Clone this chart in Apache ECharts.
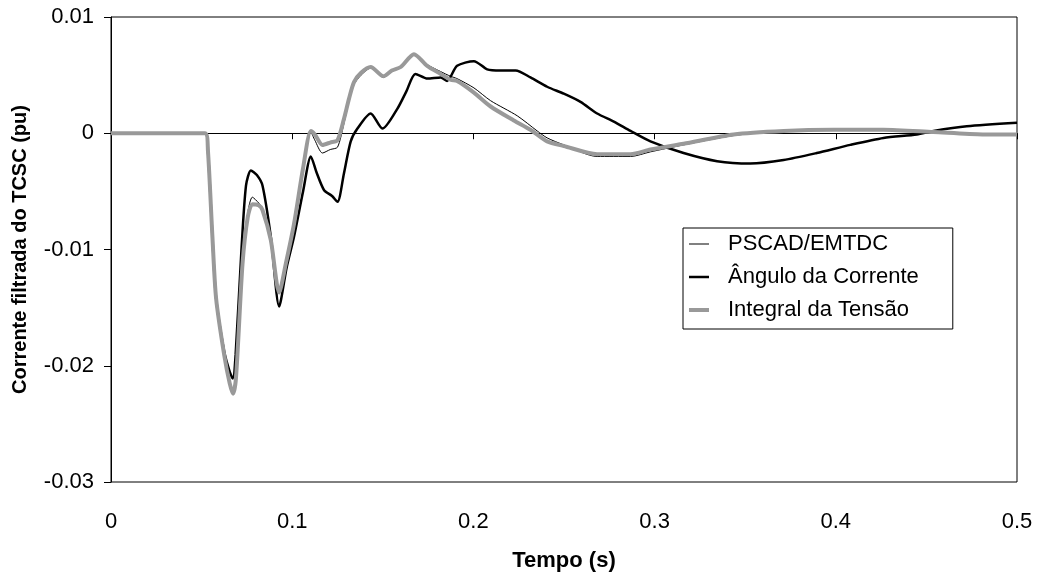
<!DOCTYPE html>
<html>
<head>
<meta charset="utf-8">
<title>Corrente filtrada do TCSC</title>
<script src="https://cdn.jsdelivr.net/npm/echarts@6/dist/echarts.min.js"></script>
<style>
  html, body { margin: 0; padding: 0; background: #fff; }
  #chart { width: 1039px; height: 577px; }
</style>
</head>
<body>
<div id="chart"></div>
<script>
// Time samples (s) and filtered TCSC current (pu) for each method
const tPscad = [0, 0.052, 0.0535, 0.056, 0.058, 0.0625, 0.0655, 0.0672, 0.069, 0.0726, 0.0755, 0.078, 0.0815, 0.0836, 0.0882, 0.0928, 0.0965, 0.101, 0.106, 0.1103, 0.1125, 0.1167, 0.121, 0.125, 0.1285, 0.1314, 0.1341, 0.138, 0.1433, 0.1503, 0.155, 0.1599, 0.1672, 0.1745, 0.182, 0.1874, 0.191, 0.2003, 0.2095, 0.2242, 0.2352, 0.2407, 0.2499, 0.2683, 0.2867, 0.2977, 0.316, 0.3436, 0.3712, 0.3987, 0.4263, 0.4539, 0.481, 0.5];
const pscad = [0, 0, -0.0015, -0.009, -0.0142, -0.019, -0.0213, -0.0222, -0.0208, -0.011, -0.0068, -0.0055, -0.006, -0.0065, -0.0092, -0.0136, -0.0112, -0.0078, -0.003, 0.0001, -0.0006, -0.0017, -0.0014, -0.0012, 0.0008, 0.0028, 0.0042, 0.005, 0.0056, 0.0048, 0.0053, 0.0057, 0.0067, 0.0059, 0.0053, 0.0049, 0.0047, 0.0039, 0.0028, 0.0015, 0.0002, -0.0004, -0.001, -0.002, -0.002, -0.0016, -0.001, -0.0002, 0.0002, 0.0003, 0.0003, 0.0001, -0.0001, -0.0001];

const tAngulo = [0, 0.052, 0.0535, 0.056, 0.058, 0.0625, 0.0655, 0.0672, 0.0688, 0.072, 0.0745, 0.0772, 0.0805, 0.0836, 0.0882, 0.0928, 0.097, 0.101, 0.106, 0.1103, 0.1135, 0.1176, 0.122, 0.125, 0.1285, 0.1323, 0.136, 0.1433, 0.1498, 0.158, 0.163, 0.168, 0.1746, 0.182, 0.1855, 0.191, 0.2003, 0.2076, 0.215, 0.2233, 0.2315, 0.2407, 0.2499, 0.2591, 0.2683, 0.2775, 0.2867, 0.2977, 0.316, 0.3345, 0.3528, 0.3712, 0.3895, 0.408, 0.4263, 0.4447, 0.4539, 0.4723, 0.5];
const angulo = [0, 0, -0.0015, -0.009, -0.0142, -0.0188, -0.0205, -0.0211, -0.019, -0.01, -0.0045, -0.0032, -0.0036, -0.0045, -0.0089, -0.0149, -0.0115, -0.0089, -0.005, -0.002, -0.0034, -0.0049, -0.0054, -0.0059, -0.0035, -0.0007, 0.0004, 0.0017, 0.0004, 0.0021, 0.0036, 0.0051, 0.0047, 0.0048, 0.0045, 0.0058, 0.0062, 0.0055, 0.0054, 0.0054, 0.0048, 0.004, 0.0034, 0.0027, 0.0017, 0.001, 0.0002, -0.0007, -0.0017, -0.0024, -0.0026, -0.0023, -0.0017, -0.001, -0.0004, -0.0001, 0.0002, 0.0006, 0.0009];

const tIntegral = [0, 0.052, 0.0535, 0.056, 0.058, 0.0625, 0.0655, 0.0674, 0.069, 0.0726, 0.0755, 0.078, 0.0815, 0.0836, 0.0882, 0.0928, 0.0965, 0.101, 0.106, 0.1103, 0.1125, 0.1167, 0.121, 0.125, 0.1285, 0.1314, 0.1341, 0.138, 0.1433, 0.1503, 0.155, 0.1599, 0.1672, 0.1745, 0.182, 0.1874, 0.191, 0.2003, 0.2095, 0.2223, 0.2315, 0.2407, 0.2499, 0.2683, 0.2867, 0.2977, 0.316, 0.3436, 0.3712, 0.3987, 0.4263, 0.4539, 0.481, 0.5];
const integral = [0, 0, -0.0015, -0.009, -0.0142, -0.0191, -0.0215, -0.0224, -0.021, -0.0112, -0.0072, -0.0061, -0.0062, -0.0066, -0.0092, -0.0137, -0.0112, -0.0078, -0.003, 0.0002, -0.0001, -0.001, -0.0008, -0.0006, 0.0012, 0.003, 0.0044, 0.0052, 0.0057, 0.0049, 0.0054, 0.0057, 0.0068, 0.0058, 0.0051, 0.0046, 0.0045, 0.0035, 0.0023, 0.0011, 0.0003, -0.0007, -0.0011, -0.0018, -0.0018, -0.0014, -0.0009, -0.0001, 0.0002, 0.0003, 0.0003, 0.0001, -0.0001, -0.0001];

// Tick labels
const xTicks = ['0', '0.1', '0.2', '0.3', '0.4', '0.5'];
const yTicks = ['-0.03', '-0.02', '-0.01', '0', '0.01'];

const seriesNames = ['PSCAD/EMTDC', 'Ângulo da Corrente', 'Integral da Tensão'];

function pairs(xs, ys) {
  return xs.map((x, i) => [x, ys[i]]);
}

const FONT = 'Liberation Sans, Arial, Helvetica, sans-serif';
const FS = 22;

// Flat bar glyphs for the legend, one per line weight
const legendIcons = [
  'path://M0,0h20v1h-20z',
  'path://M0,0h20v2.5h-20z',
  'path://M0,0h20v4h-20z'
];

const chart = echarts.init(document.getElementById('chart'), null, { renderer: 'canvas' });

chart.setOption({
  backgroundColor: '#ffffff',
  animation: false,
  textStyle: { fontFamily: FONT, color: '#000' },
  grid: {
    left: 111, top: 17, right: 22, bottom: 87,
    show: true, borderColor: '#000', borderWidth: 1, backgroundColor: '#fff'
  },
  legend: {
    orient: 'vertical',
    left: 683, top: 228,
    backgroundColor: '#fff',
    borderColor: '#000', borderWidth: 1,
    padding: [5, 34, 8, 6],
    itemGap: 11,
    itemWidth: 20, itemHeight: 22,
    symbolKeepAspect: true,
    textStyle: { fontFamily: FONT, fontSize: FS, color: '#000', padding: [0, 0, 0, 14] },
    data: seriesNames.map((n, i) => ({ name: n, icon: legendIcons[i] }))
  },
  xAxis: [
    {
      type: 'value', min: 0, max: 0.5, interval: 0.1,
      position: 'bottom',
      axisLine: { show: false, onZero: false },
      axisTick: { show: false },
      splitLine: { show: false },
      axisLabel: {
        margin: 29, fontSize: FS, color: '#000', fontFamily: FONT,
        formatter: v => xTicks[Math.round(v / 0.1)]
      },
      name: 'Tempo (s)', nameLocation: 'middle', nameGap: 68,
      nameTextStyle: { fontSize: FS, fontWeight: 'bold', color: '#000', fontFamily: FONT }
    },
    {
      type: 'value', min: 0, max: 0.5, interval: 0.1,
      position: 'bottom',
      axisLine: { show: true, onZero: true, lineStyle: { color: '#000', width: 1 } },
      axisTick: { show: true, length: 6, lineStyle: { color: '#000' } },
      axisLabel: { show: false },
      splitLine: { show: false }
    }
  ],
  yAxis: {
    type: 'value', min: -0.03, max: 0.01, interval: 0.01,
    axisLine: { show: true, onZero: false, lineStyle: { color: '#000', width: 1 } },
    axisTick: { show: true, length: 7, lineStyle: { color: '#000' } },
    splitLine: { show: false },
    axisLabel: {
      margin: 17, fontSize: FS, color: '#000', fontFamily: FONT,
      formatter: v => yTicks[Math.round((v + 0.03) / 0.01)]
    },
    name: 'Corrente filtrada do TCSC (pu)', nameLocation: 'middle', nameGap: 81,
    nameTextStyle: { fontSize: 20, fontWeight: 'bold', color: '#000', fontFamily: FONT }
  },
  series: [
    {
      name: seriesNames[0], type: 'line', xAxisIndex: 0,
      data: pairs(tPscad, pscad),
      symbol: 'none', smooth: 0.25,
      lineStyle: { color: '#000', width: 1 },
      itemStyle: { color: '#000' }
    },
    {
      name: seriesNames[1], type: 'line', xAxisIndex: 0,
      data: pairs(tAngulo, angulo),
      symbol: 'none', smooth: 0.25,
      lineStyle: { color: '#000', width: 2.5 },
      itemStyle: { color: '#000' }
    },
    {
      name: seriesNames[2], type: 'line', xAxisIndex: 0,
      data: pairs(tIntegral, integral),
      symbol: 'none', smooth: 0.25,
      lineStyle: { color: '#999999', width: 4 },
      itemStyle: { color: '#999999' }
    }
  ]
});
</script>
</body>
</html>
